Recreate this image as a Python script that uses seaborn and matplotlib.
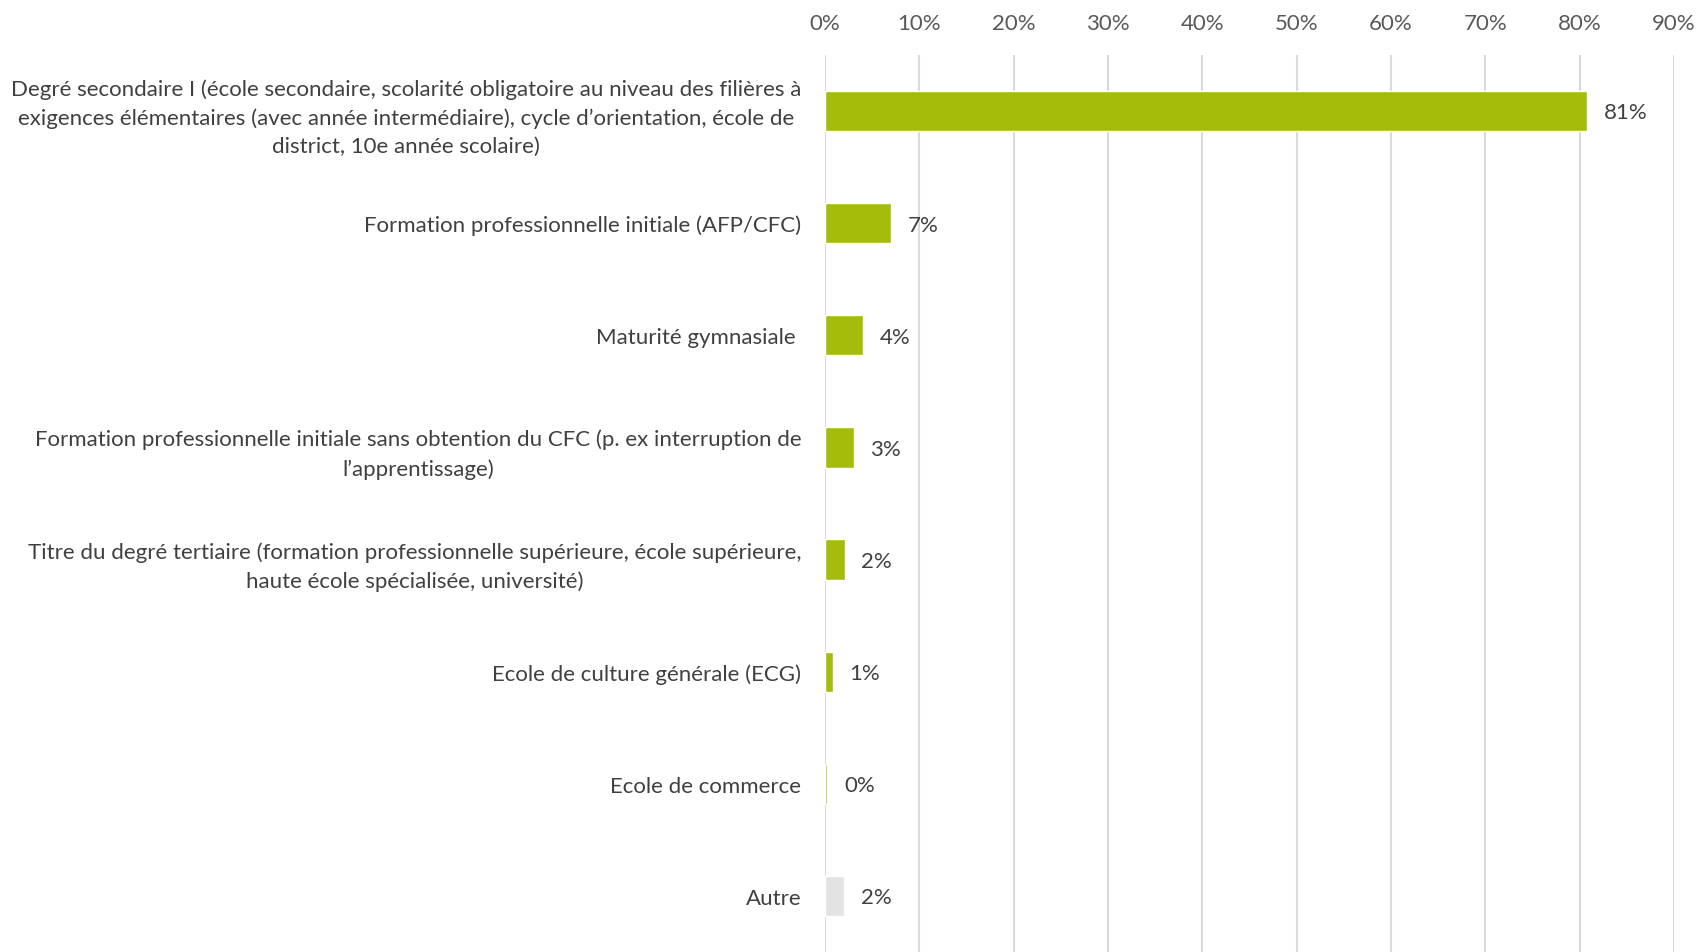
import matplotlib
matplotlib.use("Agg")
import matplotlib.pyplot as plt
import seaborn as sns
import pandas as pd
from matplotlib.ticker import MultipleLocator, FuncFormatter

categories = [
    "Degré secondaire I (école secondaire, scolarité obligatoire au niveau des filières à\n"
    "exigences élémentaires (avec année intermédiaire), cycle d’orientation, école de\n"
    "district, 10e année scolaire)",
    "Formation professionnelle initiale (AFP/CFC)",
    "Maturité gymnasiale ",
    "Formation professionnelle initiale sans obtention du CFC (p. ex interruption de\n"
    "l’apprentissage)",
    "Titre du degré tertiaire (formation professionnelle supérieure, école supérieure,\n"
    "haute école spécialisée, université)",
    "Ecole de culture générale (ECG)",
    "Ecole de commerce",
    "Autre",
]
values = [80.8, 7.0, 4.05, 3.05, 2.1, 0.85, 0.25, 2.05]
value_labels = ["81%", "7%", "4%", "3%", "2%", "1%", "0%", "2%"]
groups = ["main", "main", "main", "main", "main", "main", "main", "other"]
palette = {"main": "#A5BD0A", "other": "#E3E3E3"}

sns.set_theme(style="white")
plt.rcParams["font.family"] = ["Lato", "DejaVu Sans"]

df = pd.DataFrame({"cat": categories, "val": values, "grp": groups})

fig = plt.figure(figsize=(16.98, 9.53), dpi=100)
ax = fig.add_axes([825 / 1698, 0.0, 849 / 1698, 1 - 56 / 953])

sns.barplot(data=df, y="cat", x="val", hue="grp", palette=palette, orient="h",
            width=0.36, dodge=False, legend=False, saturation=1, ax=ax, zorder=3)

text_color = "#404040"
ax.set_xlim(0, 90)
ax.set_ylim(len(categories) - 0.5, -0.5)
ax.xaxis.set_major_locator(MultipleLocator(10))
ax.xaxis.set_major_formatter(FuncFormatter(lambda v, p: f"{v:.0f}%"))
ax.xaxis.tick_top()
ax.tick_params(axis="x", length=0, pad=16, labelsize=16, labelcolor="#595959")
ax.tick_params(axis="y", length=0, pad=17, labelsize=16, labelcolor=text_color)
for lbl in ax.get_yticklabels():
    lbl.set_multialignment("center")
    lbl.set_linespacing(1.52)
ax.grid(axis="x", color="#D9D9D9", linewidth=1.5, zorder=0)
ax.grid(axis="y", visible=False)
for s in ax.spines.values():
    s.set_visible(False)
ax.set_xlabel("")
ax.set_ylabel("")

for i, (v, t) in enumerate(zip(values, value_labels)):
    ax.annotate(t, xy=(v, i), xytext=(12, -1), textcoords="offset points",
                va="center", ha="left", fontsize=16, color=text_color)

fig.savefig("out.png", dpi=100)
